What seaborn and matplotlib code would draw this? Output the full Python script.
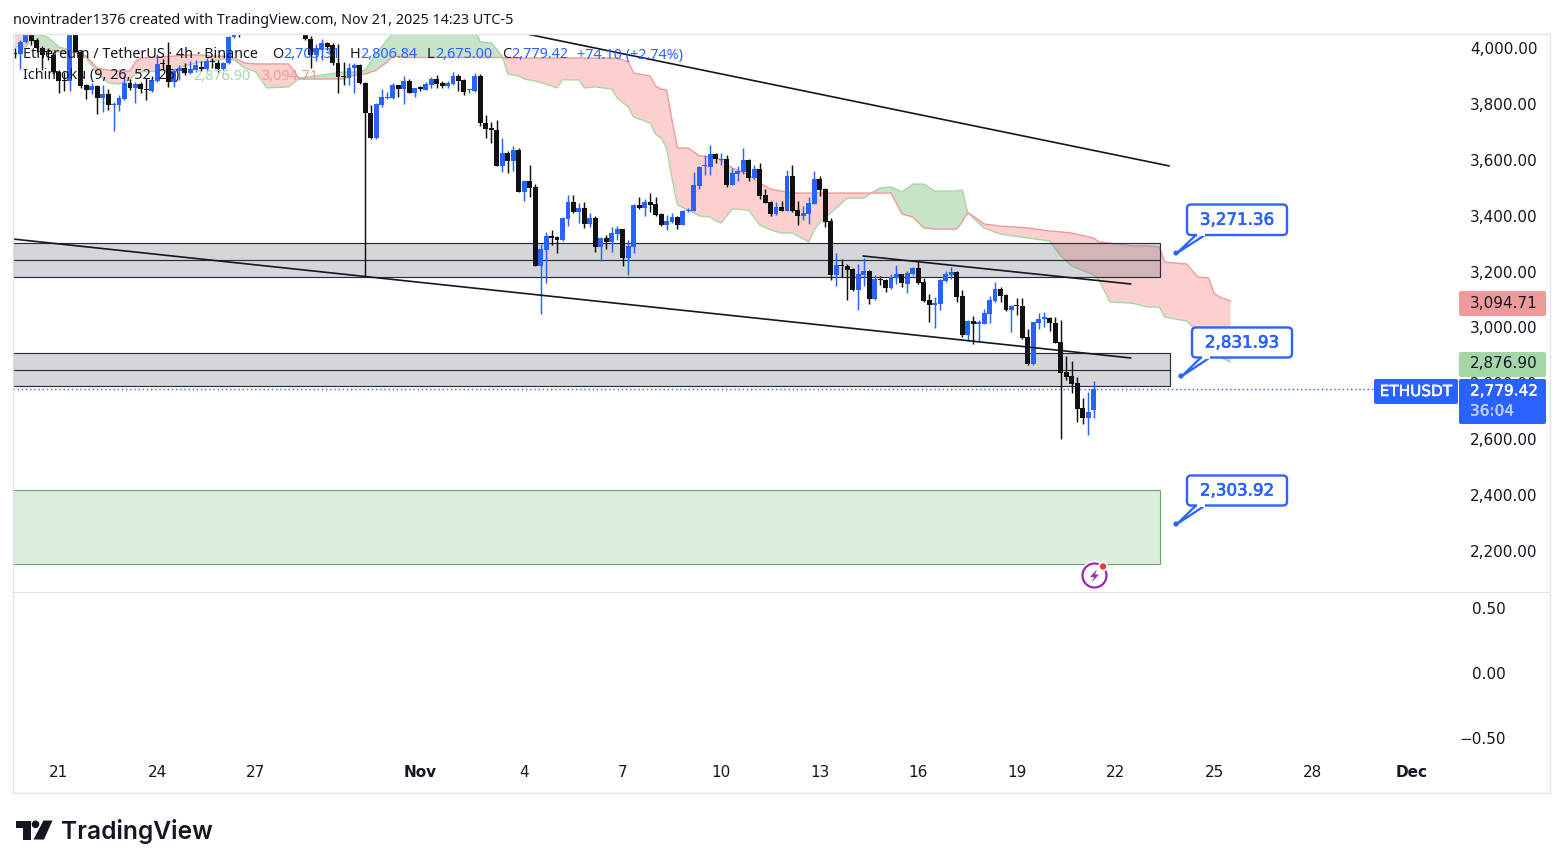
import matplotlib
matplotlib.use("Agg")
import matplotlib.pyplot as plt
from matplotlib import patheffects
from matplotlib.patches import Circle, FancyBboxPatch, Polygon, Rectangle
from matplotlib.transforms import IdentityTransform
import numpy as np
import pandas as pd
import seaborn as sns

# ETHUSDT 4h candles
opens = [3979, 3979, 4021, 4054, 4029, 4000, 3988, 3975, 3915, 3886,
         3883, 4064, 3987, 3867, 3850, 3864, 3821, 3835, 3795, 3796,
         3818, 3876, 3856, 3871, 3854, 3847, 3883, 3943, 3939, 3879,
         3918, 3927, 3912, 3921, 3933, 3924, 3951, 3947, 3924, 3945,
         4038, 4064, 4062, 4095, 4105, 4125, 4110, 4120, 4115, 4105,
         4095, 4110, 4090, 4072, 4032, 3975, 3993, 4017, 4011, 3945,
         3900, 3894, 3927, 3939, 3875, 3766, 3678, 3796, 3821, 3822,
         3868, 3853, 3882, 3840, 3857, 3850, 3868, 3889, 3876, 3864,
         3871, 3900, 3886, 3849, 3846, 3900, 3731, 3710, 3707, 3579,
         3623, 3596, 3635, 3486, 3524, 3503, 3221, 3277, 3327, 3323,
         3313, 3389, 3449, 3413, 3428, 3371, 3392, 3289, 3320, 3307,
         3336, 3352, 3248, 3289, 3438, 3427, 3449, 3442, 3406, 3367,
         3376, 3395, 3367, 3416, 3417, 3506, 3577, 3575, 3621, 3600,
         3602, 3510, 3549, 3557, 3599, 3534, 3567, 3474, 3449, 3407,
         3431, 3417, 3542, 3420, 3399, 3406, 3442, 3531, 3496, 3381,
         3188, 3222, 3220, 3209, 3134, 3188, 3202, 3102, 3172, 3170,
         3141, 3178, 3191, 3155, 3191, 3213, 3163, 3098, 3082, 3084,
         3166, 3188, 3198, 3113, 2973, 3023, 3014, 3013, 3049, 3095,
         3138, 3116, 3062, 3078, 3077, 2966, 2869, 3017, 3032, 3034,
         3015, 2948, 2841, 2826, 2801, 2712, 2676, 2705.31]
highs = [4000, 4029, 4072, 4064, 4036, 4007, 4000, 3986, 3921, 3914,
         4075, 4080, 3993, 3871, 3876, 3868, 3868, 3853, 3807, 3832,
         3900, 3889, 3878, 3878, 3893, 3900, 3979, 3961, 4023, 3925,
         3939, 3945, 3954, 3957, 3954, 3964, 3964, 3957, 3950, 4043,
         4060, 4075, 4110, 4120, 4135, 4140, 4130, 4145, 4135, 4125,
         4120, 4125, 4110, 4085, 4043, 4014, 4032, 4022, 4018, 4014,
         3951, 3946, 3946, 3943, 3878, 3796, 3803, 3853, 3842, 3876,
         3869, 3900, 3889, 3858, 3864, 3879, 3897, 3903, 3882, 3883,
         3913, 3907, 3889, 3853, 3911, 3907, 3760, 3735, 3742, 3677,
         3632, 3649, 3642, 3528, 3580, 3512, 3299, 3342, 3349, 3327,
         3394, 3474, 3474, 3444, 3448, 3409, 3399, 3322, 3331, 3358,
         3363, 3354, 3313, 3442, 3467, 3460, 3481, 3468, 3410, 3402,
         3410, 3399, 3420, 3427, 3557, 3577, 3617, 3653, 3624, 3624,
         3617, 3571, 3578, 3641, 3601, 3581, 3587, 3495, 3451, 3450,
         3453, 3563, 3581, 3453, 3435, 3466, 3560, 3542, 3499, 3391,
         3265, 3245, 3227, 3213, 3226, 3247, 3206, 3188, 3184, 3173,
         3191, 3224, 3193, 3201, 3216, 3239, 3177, 3120, 3109, 3173,
         3202, 3216, 3202, 3134, 3027, 3042, 3027, 3066, 3113, 3163,
         3146, 3120, 3080, 3105, 3105, 2994, 3021, 3053, 3055, 3037,
         3038, 3027, 2898, 2881, 2824, 2748, 2770, 2806.84]
lows = [3964, 3925, 4018, 4011, 3986, 3921, 3957, 3907, 3839, 3846,
        3846, 3984, 3857, 3818, 3835, 3764, 3772, 3778, 3704, 3775,
        3814, 3850, 3804, 3840, 3814, 3843, 3878, 3921, 3861, 3861,
        3886, 3903, 3907, 3915, 3918, 3918, 3928, 3915, 3922, 3943,
        4036, 4040, 4058, 4085, 4090, 4100, 4095, 4105, 4098, 4085,
        4080, 4085, 4068, 4028, 3927, 3955, 3957, 3993, 3939, 3838,
        3868, 3868, 3838, 3872, 3182, 3674, 3676, 3790, 3818, 3818,
        3826, 3800, 3839, 3826, 3846, 3848, 3856, 3858, 3858, 3858,
        3869, 3847, 3832, 3840, 3844, 3722, 3679, 3659, 3577, 3557,
        3554, 3561, 3484, 3454, 3468, 3220, 3048, 3160, 3295, 3268,
        3310, 3364, 3408, 3373, 3357, 3361, 3271, 3239, 3281, 3271,
        3313, 3221, 3188, 3268, 3424, 3399, 3414, 3399, 3364, 3349,
        3374, 3352, 3365, 3413, 3415, 3495, 3546, 3546, 3589, 3581,
        3504, 3508, 3525, 3549, 3525, 3532, 3460, 3444, 3399, 3402,
        3415, 3415, 3412, 3367, 3385, 3370, 3440, 3471, 3360, 3170,
        3148, 3182, 3098, 3131, 3062, 3149, 3085, 3100, 3152, 3127,
        3139, 3155, 3145, 3123, 3189, 3157, 3091, 3019, 2998, 3062,
        3163, 3173, 3091, 2967, 2953, 2941, 2951, 3011, 3017, 3090,
        3092, 3060, 2985, 3045, 2959, 2866, 2867, 2994, 3003, 2987,
        2943, 2602, 2812, 2767, 2662, 2654, 2616, 2675]
closes = [3977, 4020, 4064, 4026, 4000, 3975, 3984, 3914, 3883, 3882,
          4064, 3986, 3865, 3850, 3864, 3821, 3835, 3797, 3797, 3821,
          3874, 3856, 3871, 3852, 3850, 3886, 3943, 3941, 3879, 3919,
          3928, 3909, 3924, 3939, 3924, 3955, 3949, 3925, 3947, 4040,
          4054, 4054, 4095, 4105, 4125, 4110, 4120, 4115, 4105, 4095,
          4110, 4090, 4075, 4031, 3975, 3999, 4017, 4005, 3945, 3897,
          3897, 3927, 3939, 3875, 3766, 3677, 3800, 3826, 3824, 3868,
          3853, 3882, 3840, 3856, 3855, 3871, 3888, 3871, 3864, 3876,
          3900, 3883, 3844, 3851, 3900, 3731, 3709, 3708, 3579, 3623,
          3596, 3635, 3486, 3524, 3500, 3221, 3281, 3327, 3320, 3313,
          3392, 3449, 3412, 3428, 3371, 3392, 3289, 3320, 3307, 3338,
          3352, 3248, 3292, 3438, 3427, 3449, 3439, 3402, 3367, 3381,
          3395, 3367, 3417, 3418, 3510, 3575, 3580, 3621, 3602, 3603,
          3510, 3554, 3559, 3599, 3534, 3567, 3471, 3446, 3407, 3431,
          3417, 3542, 3417, 3400, 3408, 3444, 3531, 3493, 3377, 3188,
          3224, 3220, 3206, 3134, 3191, 3202, 3102, 3173, 3169, 3141,
          3180, 3191, 3159, 3195, 3213, 3159, 3095, 3080, 3085, 3170,
          3191, 3198, 3110, 2973, 3023, 3012, 3017, 3053, 3098, 3138,
          3113, 3062, 3077, 3076, 2962, 2869, 3019, 3030, 3035, 3015,
          2945, 2838, 2823, 2798, 2708, 2676, 2698, 2779.42]

# Ichimoku cloud, sampled at the bars where its edges change
cloud_bars = [0, 2, 3, 4, 6, 8, 10, 11, 13, 15, 17, 19, 21, 22, 23, 26, 29, 31, 34, 36,
              38, 40, 42, 44, 46, 50, 52, 56, 60, 62, 64, 66, 68, 69, 72, 84, 85, 87, 89, 90,
              92, 93, 95, 97, 99, 100, 103, 104, 106, 109, 110, 112, 113, 115, 116, 117, 118, 119, 120, 121,
              123, 125, 127, 128, 129, 131, 134, 136, 138, 140, 142, 145, 146, 147, 149, 152, 155, 157, 158, 160,
              162, 164, 166, 168, 172, 173, 174, 175, 177, 180, 185, 189, 191, 193, 197, 198, 200, 204, 207, 209,
              210, 214, 216, 218, 219, 220, 222]
span_a = [4004, 4004, 4036, 4050, 4039, 4004, 3993, 3986, 3964, 3911, 3875, 3871, 3886, 3907, 3914, 3918, 3921, 3936, 3950, 3954,
          3961, 3957, 3929, 3914, 3857, 3861, 3893, 3903, 3914, 3914, 3921, 3982, 4029, 4050, 4064, 4064, 4022, 4018, 3971, 3907,
          3900, 3889, 3882, 3871, 3857, 3886, 3886, 3857, 3861, 3853, 3821, 3789, 3753, 3739, 3732, 3692, 3678, 3642, 3535, 3438,
          3420, 3399, 3395, 3381, 3374, 3424, 3420, 3367, 3349, 3338, 3338, 3306, 3349, 3377, 3410, 3463, 3463, 3488, 3499, 3503,
          3485, 3513, 3513, 3488, 3488, 3492, 3413, 3392, 3356, 3334, 3320, 3309, 3256, 3220, 3188, 3170, 3091, 3087, 3073, 3073,
          3037, 3023, 2984, 2930, 2912, 2894, 2876.90]
span_b = [4064, 4061, 4043, 4000, 3993, 3986, 3982, 3984, 3971, 3928, 3921, 3918, 3918, 3950, 3964, 3968, 3971, 3975, 3975, 3971,
          3971, 3964, 3946, 3943, 3943, 3943, 3889, 3889, 3889, 3903, 3907, 3921, 3950, 3971, 3966, 3966, 3966, 3966, 3966, 3964,
          3964, 3964, 3964, 3964, 3964, 3964, 3964, 3964, 3964, 3964, 3964, 3950, 3911, 3903, 3900, 3864, 3853, 3850, 3742, 3642,
          3642, 3614, 3610, 3610, 3599, 3571, 3546, 3517, 3495, 3488, 3481, 3481, 3481, 3481, 3481, 3481, 3481, 3481, 3481, 3481,
          3406, 3395, 3356, 3352, 3352, 3377, 3410, 3399, 3370, 3363, 3356, 3345, 3342, 3338, 3320, 3306, 3302, 3292, 3292, 3288,
          3234, 3227, 3181, 3177, 3123, 3109, 3094.71]

# drawn zones and trend lines (bar number, price)
zone_low = [3180, 2789]
zone_mid = [3241, 2848]
zone_high = [3302, 2908]
zone_end = [209.1, 211]
target_low, target_high = 2155, 2420
target_end = 209.1
trend_bars = [[93.5, 210.8], [-0.4, 203.8], [154.9, 203.8]]
trend_prices = [[4050, 3578], [3316.5, 2890.7], [3255.7, 3155.5]]

price_ticks = [2200, 2400, 2600, 2800, 3000, 3200, 3400, 3600, 3800, 4000]
lower_ticks = [-0.5, 0.0, 0.5]
lower_labels = ["\u22120.50", "0.00", "0.50"]
time_ticks = [8, 26, 44, 74, 93, 111, 129, 147, 165, 183, 201, 219, 237, 255]
time_labels = ["21", "24", "27", "Nov", "4", "7", "10", "13", "16", "19", "22", "25", "28", "Dec"]

BLUE = "#2962ff"
BLACK = "#131722"
GREEN_LINE = "#a5d6a7"
RED_LINE = "#ef9a9a"
FRAME = "#e0e3eb"
W, H = 1563, 868

sns.set_style("white")
plt.rcParams["font.family"] = ["DejaVu Sans"]

df = pd.DataFrame({"bar": np.arange(len(opens), dtype=float), "open": opens, "high": highs,
                   "low": lows, "close": closes})
df["bottom"] = df[["open", "close"]].min(axis=1)
df["body"] = (df["close"] - df["open"]).abs().clip(lower=4)  # dojis still show as a line
up = df[df["close"] >= df["open"]]
down = df[df["close"] < df["open"]]

fig = plt.figure(figsize=(W / 100, H / 100), dpi=100, facecolor="white")


def axes_px(x0, y0, x1, y1):
    return fig.add_axes([x0 / W, 1 - y1 / H, (x1 - x0) / W, (y1 - y0) / H])


def rect_px(x0, y0, x1, y1, **kw):
    fig.add_artist(Rectangle((x0, H - y1), x1 - x0, y1 - y0, transform=IdentityTransform(), **kw))


def text_px(x, y, s, **kw):
    kw.setdefault("va", "center")
    kw.setdefault("color", BLACK)
    return fig.text(x, H - y, s, transform=IdentityTransform(), **kw)


def thicken(txt, width=0.35):
    txt.set_path_effects([patheffects.withStroke(linewidth=width, foreground=txt.get_color())])


ax = axes_px(13, 34, 1458, 592)
low_ax = axes_px(13, 593, 1458, 762)
xlim = (-0.365, 263.56)

# cloud
cloud_x = np.array(cloud_bars, dtype=float)
a = np.array(span_a)
b = np.array(span_b)
ax.fill_between(cloud_x, a, b, where=b >= a, interpolate=True, color="#fcd0ce", linewidth=0, zorder=1)
ax.fill_between(cloud_x, a, b, where=a >= b, interpolate=True, color="#c8e4c8", linewidth=0, zorder=1)
sns.lineplot(x=cloud_x, y=a, color=GREEN_LINE, linewidth=1.0, errorbar=None, ax=ax, zorder=1.5)
sns.lineplot(x=cloud_x, y=b, color=RED_LINE, linewidth=1.0, errorbar=None, ax=ax, zorder=1.5)

# zones
for lo, mid, hi, end in zip(zone_low, zone_mid, zone_high, zone_end):
    ax.add_patch(Rectangle((xlim[0], lo), end - xlim[0], hi - lo, facecolor="#787b86", alpha=0.31,
                           linewidth=0, zorder=2))
    ax.add_patch(Rectangle((xlim[0], lo), end - xlim[0], hi - lo, fill=False, edgecolor="#2a2e39",
                           linewidth=0.85, zorder=2.1))
    ax.plot([xlim[0], end], [mid, mid], color="#2a2e39", linewidth=0.85, zorder=2.1)
ax.add_patch(Rectangle((xlim[0], target_low), target_end - xlim[0], target_high - target_low,
                       facecolor="#ddeedd", edgecolor="#66a86a", linewidth=0.8, zorder=2))

# candles
for part, color in ((up, BLUE), (down, "#111111")):
    ax.vlines(part["bar"], part["low"], part["high"], color=color, linewidth=1.05, zorder=3)
    sns.barplot(data=part, x="bar", y="body", bottom=part["bottom"].to_numpy(), native_scale=True,
                color=color, saturation=1, width=0.9, errorbar=None, linewidth=0, edgecolor=color,
                ax=ax, zorder=3.5)

# trend lines
for tx, ty in zip(trend_bars, trend_prices):
    ax.plot(tx, ty, color=BLACK, linewidth=1.2, zorder=4)

ax.axhline(closes[-1], color=BLUE, linestyle=(0, (1, 2)), linewidth=1.0, zorder=2.5)

ax.set_xlim(*xlim)
ax.set_ylim(2053.3, 4050.1)
ax.yaxis.tick_right()
ax.set_yticks(price_ticks)
ax.set_yticklabels([f"{p:,.2f}" for p in price_ticks])
ax.tick_params(axis="y", length=0, pad=8.6, labelsize=11, labelcolor=BLACK)
ax.set_xticks([])
ax.set_xlabel("")
ax.set_ylabel("")

low_ax.set_xlim(*xlim)
low_ax.set_ylim(-0.685, 0.615)
low_ax.yaxis.tick_right()
low_ax.set_yticks(lower_ticks)
low_ax.set_yticklabels(lower_labels, ha="right")
low_ax.tick_params(axis="y", length=0, pad=34.5, labelsize=11, labelcolor=BLACK)
low_ax.set_xticks(time_ticks)
low_ax.set_xticklabels(time_labels)
low_ax.tick_params(axis="x", length=0, pad=2.5, labelsize=11, labelcolor=BLACK)
for lab in low_ax.get_xticklabels():
    if lab.get_text() in ("Nov", "Dec"):
        lab.set_fontweight("bold")
for axis in (ax, low_ax):
    axis.patch.set_alpha(0)
    for spine in axis.spines.values():
        spine.set_visible(False)

# frame and pane separator
rect_px(13, 34, 1550, 793, fill=False, edgecolor=FRAME, linewidth=1, zorder=1)
rect_px(13, 592, 1550, 593, facecolor=FRAME, linewidth=0, zorder=1)

# header and legend
legend_font = {"family": "Noto Sans", "fontsize": 10.35}
text_px(13, 21, "novintrader1376 created with TradingView.com, Nov 21, 2025 14:23 UTC-5", zorder=6, **legend_font)
text_px(23, 55, "Ethereum / TetherUS \u00b7 4h \u00b7 Binance", zorder=6, **legend_font)
ohlc_labels = [(272.5, "O"), (350, "H"), (427, "L"), (502, "C")]
ohlc_values = [(283, "2,705.31"), (360, "2,806.84"), (435, "2,675.00"), (511, "2,779.42")]
for x, s in ohlc_labels:
    text_px(x, 55, s, zorder=6, **legend_font)
for x, s in ohlc_values:
    text_px(x, 55, s, color=BLUE, zorder=6, **legend_font)
text_px(577, 55, "+74.10 (+2.74%)", color=BLUE, zorder=6, **legend_font)
text_px(23, 76, "Ichimoku (9, 26, 52, 26)", zorder=6, **legend_font)
text_px(193, 76, "2,876.90", color=GREEN_LINE, zorder=6, **legend_font)
text_px(261, 76, "3,094.71", color=RED_LINE, zorder=6, **legend_font)


def round_box(x0, y0, x1, y1, rounding=2, **kw):
    fig.add_artist(FancyBboxPatch((x0, H - y1), x1 - x0, y1 - y0,
                                  boxstyle=f"round,pad=0,rounding_size={rounding}",
                                  transform=IdentityTransform(), **kw))


# price scale labels
round_box(1459, 291, 1546, 316, facecolor=RED_LINE, linewidth=0, zorder=5)
text_px(1470, 303, "3,094.71", fontsize=11, zorder=6)
round_box(1459, 352, 1546, 377, facecolor=GREEN_LINE, linewidth=0, zorder=5)
text_px(1470, 364, "2,876.90", fontsize=11, zorder=6)
round_box(1374, 379, 1458, 404, facecolor=BLUE, linewidth=0, zorder=5)
thicken(text_px(1416, 391.5, "ETHUSDT", color="white", fontsize=11, ha="center", zorder=6))
round_box(1459, 379, 1546, 424, facecolor=BLUE, linewidth=0, zorder=5)
thicken(text_px(1470, 391, "2,779.42", color="white", fontsize=11, zorder=6), 0.25)
thicken(text_px(1470, 411, "36:04", color="#bfd0ff", fontsize=11, zorder=6), 0.25)

# price callouts: box left, box top, box bottom, dot x, dot y, label
callouts = [(1187, 204.5, 235, 1176, 253, "3,271.36"),
            (1192, 327.5, 357.5, 1181, 376, "2,831.93"),
            (1187, 475.5, 505.5, 1176, 524, "2,303.92")]
for bx, by0, by1, dx, dy, label in callouts:
    fig.add_artist(Polygon([(bx + 9, H - by1), (bx + 18, H - by1), (dx + 1, H - dy)], closed=True,
                           transform=IdentityTransform(), facecolor="white", edgecolor=BLUE,
                           linewidth=1.6, joinstyle="round", zorder=5))
    fig.add_artist(Circle((dx, H - dy), 2.6, transform=IdentityTransform(), facecolor=BLUE, linewidth=0, zorder=5.2))
    round_box(bx, by0, bx + 100, by1, rounding=4, facecolor="white", edgecolor=BLUE, linewidth=1.7, zorder=5.1)
    fig.add_artist(Rectangle((bx + 10, H - by1 - 1), 7.5, 3, transform=IdentityTransform(),
                             facecolor="white", linewidth=0, zorder=5.3))
    thicken(text_px(bx + 50, (by0 + by1) / 2, label, color=BLUE, fontsize=12, ha="center", zorder=6), 0.5)

# purple alert icon below the target zone
fig.add_artist(Circle((1094.5, H - 575.5), 14.5, transform=IdentityTransform(), facecolor="white", linewidth=0, zorder=5))
fig.add_artist(Circle((1094.5, H - 575.5), 12, transform=IdentityTransform(), facecolor="white",
                      edgecolor="#9c27b0", linewidth=1.6, zorder=5.1))
bolt = [(1097, 569.5), (1090, 577), (1094, 577), (1092, 582), (1099, 574.5), (1095, 574.5)]
fig.add_artist(Polygon([(x, H - y) for x, y in bolt], closed=True, transform=IdentityTransform(),
                       facecolor="#9c27b0", linewidth=0, zorder=5.2))
fig.add_artist(Circle((1103, H - 566.5), 5, transform=IdentityTransform(), facecolor="white", linewidth=0, zorder=5.3))
fig.add_artist(Circle((1103, H - 566.5), 3.2, transform=IdentityTransform(), facecolor="#f23645", linewidth=0, zorder=5.4))

# TradingView logo
logo_t = [(15.5, 820.5), (30.5, 820.5), (30.5, 839.5), (22.5, 839.5), (22.5, 828), (15.5, 828)]
logo_slash = [(43.5, 820.5), (52.5, 820.5), (44, 839.5), (33.5, 839.5)]
for shape in (logo_t, logo_slash):
    fig.add_artist(Polygon([(x, H - y) for x, y in shape], closed=True, transform=IdentityTransform(),
                           facecolor=BLACK, linewidth=0, zorder=5))
fig.add_artist(Circle((35.5, H - 824.3), 3.8, transform=IdentityTransform(), facecolor=BLACK, linewidth=0, zorder=5))
text_px(61, 831, "TradingView", family="Inter", fontweight="semibold", fontsize=17.7, zorder=6)

fig.savefig("out.png", dpi=100)
